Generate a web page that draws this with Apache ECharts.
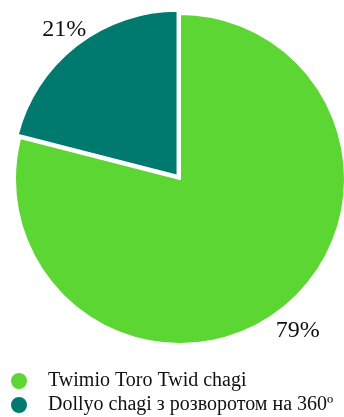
<!DOCTYPE html>
<html><head><meta charset="utf-8">
<script src="https://cdn.jsdelivr.net/npm/echarts@6/dist/echarts.min.js"></script>
<style>html,body{margin:0;padding:0;background:#fff}#c{width:344px;height:417px}</style>
</head><body><div id="c"></div>
<script>
const categories = ["Twimio Toro Twid chagi", "Dollyo chagi з розворотом на 360º"];
const values = [79, 21];
const colors = ["#5CD632", "#007A6F"];
const exploded = [false, true];
const labelGap = [27, 20];

const legendTops = [371, 395];
const chart = echarts.init(document.getElementById('c'));
chart.setOption({
  animation: false,
  legend: categories.map((n, i) => ({
    orient: 'vertical', left: 9, top: legendTops[i], padding: 0,
    icon: 'circle', itemWidth: 18, itemHeight: 18, selectedMode: false,
    textStyle: { fontFamily: 'Liberation Serif', fontSize: 20, color: '#111', padding: [0, 0, 0, 15] },
    data: [n]
  })),
  series: [{
    type: 'pie',
    center: [180, 179],
    radius: [0, 165],
    startAngle: 90,
    clockwise: true,
    selectedMode: 'multiple',
    selectedOffset: 4,
    itemStyle: { borderColor: '#fff', borderWidth: 2 },
    emphasis: { disabled: true },
    label: {
      show: true, position: 'outside', overflow: 'none',
      formatter: '{c}%', distanceToLabelLine: 0,
      fontFamily: 'Liberation Serif', fontSize: 24, color: '#111'
    },
    labelLine: { show: false, length: 27, length2: 0 },
    labelLayout: { align: 'center', verticalAlign: 'middle' },
    data: categories.map((n, i) => ({
      name: n, value: values[i], selected: exploded[i],
      itemStyle: { color: colors[i] },
      labelLine: { show: false, length: labelGap[i], length2: 0 }
    }))
  }]
});
</script></body></html>
